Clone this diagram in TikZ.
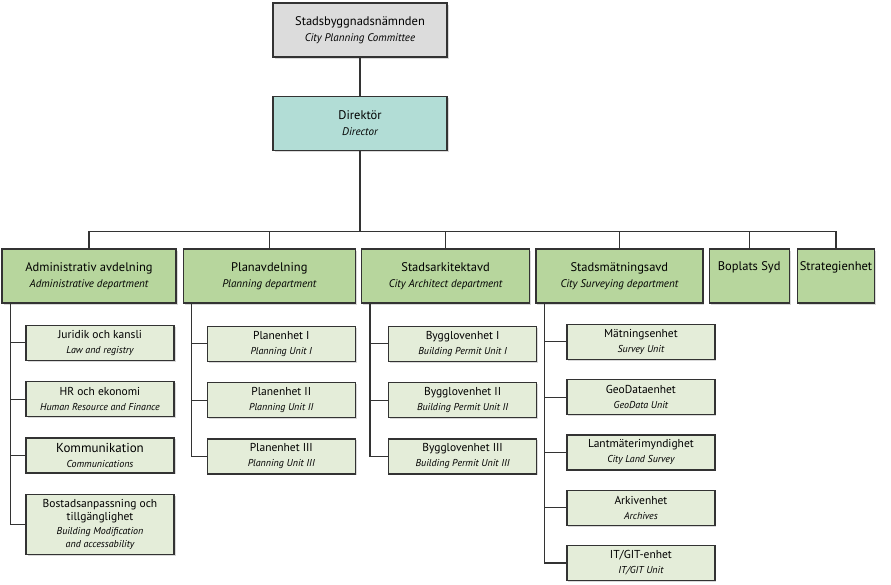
\documentclass[tikz,border=0pt]{standalone}
\usepackage{fontspec}
\setmainfont{PT Sans}
\usetikzlibrary{positioning,shadows}

\definecolor{topgray}{HTML}{DCDCDC}
\definecolor{dirteal}{HTML}{B2DDD6}
\definecolor{deptgreen}{HTML}{B7D69D}
\definecolor{unitgreen}{HTML}{E4EDD9}
\definecolor{edgegray}{HTML}{333333}

\newcommand{\deptsub}[1]{{\fontsize{11}{13}\selectfont\itshape #1}}
\newcommand{\unitsub}[1]{{\fontsize{10}{12}\selectfont\itshape #1}}

\begin{document}
\begin{tikzpicture}[
      box/.style={draw=edgegray, line width=1.3pt, align=center, inner sep=2pt,
        drop shadow={shadow xshift=1.5pt, shadow yshift=-1.5pt, opacity=0.3}},
      head/.style={box, minimum width=174pt, minimum height=54pt, font=\fontsize{12.5}{16}\selectfont},
      dept/.style={box, fill=deptgreen, minimum height=54pt, font=\fontsize{12.5}{16}\selectfont},
      unit/.style={box, fill=unitgreen, minimum width=148pt, minimum height=35pt, font=\fontsize{11.5}{15}\selectfont},
      bigunit/.style={unit, font=\fontsize{13}{15}\selectfont},
      link/.style={draw=edgegray, line width=1.2pt}
    ]
      \useasboundingbox (0,0) rectangle (891pt,-584pt);
      % top of the chart
      \node[head, fill=topgray] (cmt) at (360pt,-30pt) {Stadsbyggnadsnämnden\\\deptsub{City Planning Committee}};
      \node[head, fill=dirteal, below=38pt of cmt] (dir) {Direktör\\\deptsub{Director}};
      % departments
      \node[dept, minimum width=174pt] (adm) at (89pt,-276pt) {Administrativ avdelning\\\deptsub{Administrative department}};
      \node[dept, minimum width=172pt, right=6pt of adm] (plan) {Planavdelning\\\deptsub{Planning department}};
      \node[dept, minimum width=168pt, right=5pt of plan] (ark) {Stadsarkitektavd\\\deptsub{City Architect department}};
      \node[dept, minimum width=167pt, right=5pt of ark] (mat) {Stadsmätningsavd\\\deptsub{City Surveying department}};
      \node[dept, minimum width=80pt, right=5pt of mat] (bop) {Boplats Syd\\\strut};
      \node[dept, minimum width=77pt, right=7pt of bop] (strat) {Strategienhet\\\strut};
      % units
      \node[unit, below right=21pt and 24pt of adm.south west] (jur) {Juridik och kansli\\\unitsub{Law and registry}};
      \node[unit, below=20pt of jur] (hr) {HR och ekonomi\\\unitsub{Human Resource and Finance}};
      \node[bigunit, below=20pt of hr] (kom) {Kommunikation\\\unitsub{Communications}};
      \node[unit, below=20pt of kom, minimum height=60pt, font=\fontsize{11.5}{13.5}\selectfont] (bost) {Bostadsanpassning och\\tillgänglighet\\\unitsub{Building Modification}\\\unitsub{and accessability}};
      \node[unit, below right=22pt and 24pt of plan.south west] (pl1) {Planenhet I\\\unitsub{Planning Unit I}};
      \node[unit, below=20pt of pl1] (pl2) {Planenhet II\\\unitsub{Planning Unit II}};
      \node[unit, below=20pt of pl2] (pl3) {Planenhet III\\\unitsub{Planning Unit III}};
      \node[unit, below right=22pt and 27pt of ark.south west] (by1) {Bygglovenhet I\\\unitsub{Building Permit Unit I}};
      \node[unit, below=20pt of by1] (by2) {Bygglovenhet II\\\unitsub{Building Permit Unit II}};
      \node[unit, below=20pt of by2] (by3) {Bygglovenhet III\\\unitsub{Building Permit Unit III}};
      \node[unit, below right=20pt and 31pt of mat.south west] (m1) {Mätningsenhet\\\unitsub{Survey Unit}};
      \node[unit, below=19pt of m1] (m2) {GeoDataenhet\\\unitsub{GeoData Unit}};
      \node[unit, below=19pt of m2] (m3) {Lantmäterimyndighet\\\unitsub{City Land Survey}};
      \node[unit, below=19pt of m3] (m4) {Arkivenhet\\\unitsub{Archives}};
      \node[unit, below=19pt of m4] (m5) {IT/GIT-enhet\\\unitsub{IT/GIT Unit}};
      % lines
      \draw[link] (cmt) -- (dir);
      \foreach \d in {adm,plan,ark,mat,bop,strat}
        \draw[link] (dir.south) |- ([yshift=17pt]\d.north) -- (\d.north);
      \foreach \u in {jur,hr,kom,bost}
        \draw[link] ([xshift=9pt]adm.south west) |- (\u.west);
      \foreach \u in {pl1,pl2,pl3}
        \draw[link] ([xshift=9pt]plan.south west) |- (\u.west);
      \foreach \u in {by1,by2,by3}
        \draw[link] ([xshift=9pt]ark.south west) |- (\u.west);
      \foreach \u in {m1,m2,m3,m4,m5}
        \draw[link] ([xshift=9pt]mat.south west) |- (\u.west);
    \end{tikzpicture}
\end{document}
